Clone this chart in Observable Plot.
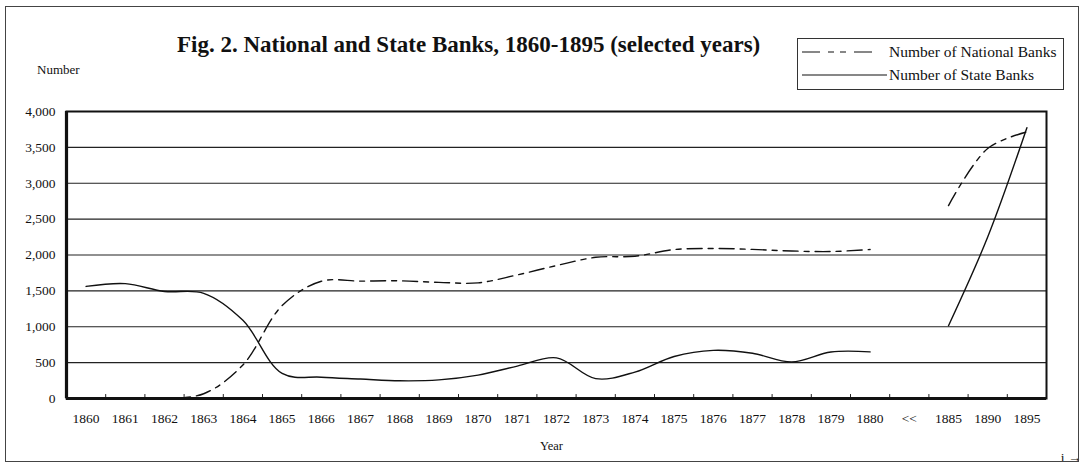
<!DOCTYPE html>
<html>
<head>
<meta charset="utf-8">
<script src="https://cdn.jsdelivr.net/npm/d3@7"></script>
<script src="https://cdn.jsdelivr.net/npm/@observablehq/plot@0.6"></script>
<style>
  html, body { margin: 0; padding: 0; background: #fff; overflow: hidden; }
  #wrap { position: relative; width: 1084px; height: 464px; overflow: hidden;
          font-family: "Liberation Serif", "Times New Roman", serif; color: #111; background: #fff; }
  #border { position: absolute; left: 5px; top: 6px; width: 1074px; height: 456px;
            border: 1px solid #444; box-sizing: border-box; pointer-events: none; }
  #title { position: absolute; left: 177px; top: 32px; font-weight: bold; font-size: 23px; white-space: nowrap; }
  #ylab { position: absolute; left: 37px; top: 62px; font-size: 13px; }
  #xlab { position: absolute; left: 540px; top: 439px; font-size: 12.5px; }
  #legend { position: absolute; left: 797px; top: 38px; width: 267px; height: 52px;
            border: 1px solid #333; box-sizing: border-box; font-size: 15.5px; }
  .lrow { position: absolute; left: 3px; height: 20px; display: flex; align-items: center; white-space: nowrap; }
  .lrow svg { margin-right: 2px; }
  #chart { position: absolute; left: 0; top: 0; }
  #chart svg { display: block; }
</style>
</head>
<body>
<div id="wrap">
  <div id="chart"></div>
  <div id="border"></div>
  <div id="title">Fig. 2. National and State Banks, 1860-1895 (selected years)</div>
  <div id="ylab">Number</div>
  <div id="xlab">Year</div>
  <div id="legend">
    <div class="lrow" style="top:3px"><svg width="86" height="10"><line x1="1" y1="5" x2="86" y2="5" stroke="#111" stroke-width="1.2" stroke-dasharray="18,8,6,6,6,8,18"/></svg><span>Number of National Banks</span></div>
    <div class="lrow" style="top:26px"><svg width="86" height="10"><line x1="1" y1="5" x2="86" y2="5" stroke="#111" stroke-width="1.2"/></svg><span>Number of State Banks</span></div>
  </div>
</div>
<script>
// Category labels along the x axis
const years = ["1860","1861","1862","1863","1864","1865","1866","1867","1868","1869","1870",
               "1871","1872","1873","1874","1875","1876","1877","1878","1879","1880","<<",
               "1885","1890","1895"];
// Number of National Banks (null = no data)
const nationalBanks = [null,null,0,66,467,1294,1634,1636,1640,1619,1612,
                       1723,1853,1968,1983,2076,2091,2078,2056,2048,2076,null,
                       2689,3484,3715];
// Number of State Banks
const stateBanks = [1562,1601,1492,1466,1089,349,297,272,247,259,325,
                    452,566,277,368,586,671,631,510,648,650,null,
                    1015,2250,3774];
// Y tick values
const yTicks = [0,500,1000,1500,2000,2500,3000,3500,4000];

const rows = years.map((y, i) => ({i, label: y, national: nationalBanks[i], state: stateBanks[i]}));
const idx = d3.range(years.length);
const bounds = d3.range(1, years.length).map(i => i - 0.5);
const xDomain = [-0.5, years.length - 0.5];

const chart = Plot.plot({
  width: 1084,
  height: 464,
  marginLeft: 66,
  marginRight: 38,
  marginTop: 111,
  marginBottom: 66,
  style: { fontFamily: "'Liberation Serif', 'Times New Roman', serif", fontSize: "13.5px", color: "#111", background: "transparent" },
  x: { type: "linear", domain: xDomain, axis: null },
  y: { domain: [0, 4000], axis: null },
  marks: [
    Plot.ruleY(yTicks.slice(1, -1), { stroke: "#222", strokeWidth: 1.1 }),
    Plot.axisX(idx, { tickSize: 0, tickPadding: 15, tickFormat: i => years[i], fontSize: 13.5 }),
    Plot.axisY(yTicks, { tickSize: 0, tickPadding: 11, tickFormat: d3.format(","), fontSize: 13.5 }),
    Plot.ruleX(bounds, { y1: 0, y2: 55, stroke: "#222", strokeWidth: 1 }),
    Plot.line(rows, { x: "i", y: "national", curve: "catmull-rom", stroke: "#111", strokeWidth: 1.4,
                      strokeDasharray: "15,6,5,6" }),
    Plot.line(rows, { x: "i", y: "state", curve: "catmull-rom", stroke: "#111", strokeWidth: 1.4 }),
    Plot.frame({ stroke: "#111", strokeWidth: 2 }),
    Plot.ruleY([0], { stroke: "#111", strokeWidth: 3.2 }),
    Plot.ruleX([xDomain[0]], { stroke: "#111", strokeWidth: 3.2 })
  ]
});
document.getElementById("chart").appendChild(chart);
</script>
</body>
</html>
